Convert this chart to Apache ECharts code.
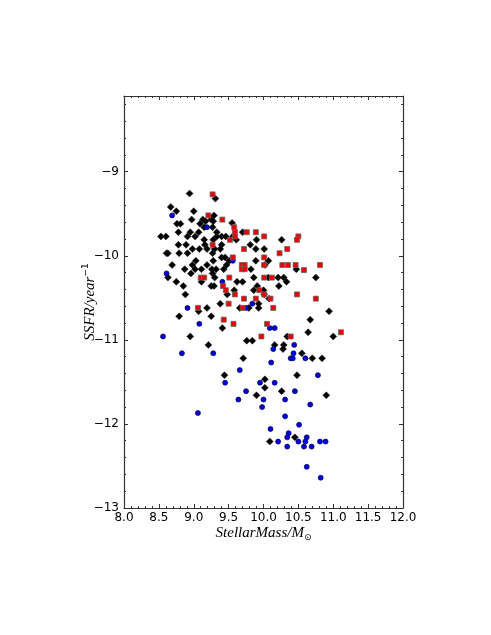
<!DOCTYPE html>
<html>
<head>
<meta charset="utf-8">
<script src="https://cdn.jsdelivr.net/npm/echarts@6.0.0/dist/echarts.min.js"></script>
<style>
  html, body { margin: 0; padding: 0; background: #ffffff; }
  #chart { width: 491px; height: 635px; }
</style>
</head>
<body>
<div id="chart"></div>
<script>
// black diamonds
var blackMass = [8.94, 8.67, 8.75, 9.00, 8.97, 9.13, 9.17, 8.76, 8.81, 9.09, 8.78, 8.95, 9.07, 9.15, 8.53, 8.60, 8.91, 9.02, 9.15, 9.16,
  8.78, 8.89, 8.98, 9.08, 9.19, 8.61, 8.63, 8.79, 8.91, 9.03,
  9.31, 9.29, 9.25, 9.28, 9.27, 9.55, 9.33, 9.33, 9.40, 9.46, 9.56, 9.70, 9.28, 9.61, 9.81, 9.40, 9.30, 9.38, 9.89, 9.27,
  9.40, 9.45, 9.28, 9.89, 9.51,
  8.69, 8.87, 8.98, 9.02, 9.11, 9.19, 8.96, 8.63, 9.11, 8.75, 8.85, 8.88, 9.19, 9.07, 8.79, 8.95,
  9.26, 9.32, 9.43, 9.47, 9.82, 10.02, 9.27, 9.30, 9.62, 9.70, 9.86, 9.25, 9.29, 9.86, 10.00, 9.58, 9.48, 10.08, 9.66, 9.79,
  9.38, 9.25, 9.41, 9.76, 9.84,
  9.90, 10.01, 10.07, 10.07, 9.91, 10.01, 9.93, 9.93,
  9.21, 9.71, 9.44, 10.02, 10.02, 9.90,
  10.26, 10.47, 10.75, 10.21, 10.29, 10.33, 10.22, 10.94, 10.67, 10.64, 11.00, 10.34, 10.16, 10.29, 10.28, 10.55, 10.70, 10.84, 10.48, 10.26,
  10.90, 10.45, 10.09];
var blackSsfr = [-9.26, -9.42, -9.47, -9.47, -9.57, -9.57, -9.59, -9.62, -9.62, -9.62, -9.72, -9.72, -9.72, -9.66, -9.77, -9.77, -9.77, -9.77, -9.81, -9.87,
  -9.87, -9.87, -9.92, -9.92, -9.92, -9.97, -9.97, -9.97, -9.97, -10.06,
  -9.32, -9.52, -9.57, -9.59, -9.66, -9.61, -9.72, -9.77, -9.77, -9.77, -9.77, -9.72, -9.81, -9.81, -9.87, -9.87, -9.92, -9.92, -9.92, -9.97,
  -10.02, -10.02, -10.06, -10.06, -10.06,
  -10.11, -10.16, -10.11, -10.16, -10.16, -10.11, -10.21, -10.26, -10.31, -10.31, -10.36, -10.46, -10.62, -10.66, -10.72, -10.96,
  -10.16, -10.16, -10.16, -10.11, -10.16, -10.11, -10.21, -10.26, -10.31, -10.31, -10.26, -10.36, -10.36, -10.41, -10.41, -10.41, -10.46, -10.51, -10.62, -10.62,
  -10.57, -10.72, -10.86, -11.01, -11.01,
  -9.81, -9.92, -10.06, -10.26, -10.36, -10.46, -10.57, -10.62,
  -11.06, -11.22, -11.42, -11.47, -11.57, -11.66,
  -9.81, -10.16, -10.26, -10.26, -10.26, -10.31, -10.36, -10.66, -10.76, -10.91, -10.96, -10.96, -11.06, -11.06, -11.11, -11.16, -11.22, -11.22, -11.42, -11.61,
  -11.66, -12.16, -12.21];

// red squares
var redMass = [9.27, 9.21, 9.41, 9.58, 9.59, 9.59, 9.76, 9.89, 10.01, 9.52, 9.27, 9.72, 9.56, 10.01, 10.01,
  9.10, 9.15, 9.06,
  9.69, 9.73, 9.69, 9.73, 9.51, 10.01, 9.42, 9.46, 9.94, 10.01, 9.59, 9.72, 9.70, 9.50, 9.43, 9.57, 10.05, 9.97,
  9.89,
  10.50, 10.48, 10.34, 10.23, 10.27, 10.35, 10.46, 10.81, 10.58, 10.12, 10.48, 10.75, 10.10, 10.14, 11.11, 10.39];
var redSsfr = [-9.27, -9.52, -9.57, -9.66, -9.72, -9.77, -9.72, -9.72, -9.77, -9.81, -9.87, -9.92, -10.02, -10.02, -10.11,
  -10.26, -10.26, -10.62,
  -10.11, -10.11, -10.16, -10.16, -10.26, -10.26, -10.36, -10.41, -10.41, -10.46, -10.46, -10.51, -10.62, -10.57, -10.76, -10.81, -10.81, -10.96,
  -10.51,
  -9.77, -9.81, -9.92, -9.97, -10.11, -10.11, -10.11, -10.11, -10.17, -10.26, -10.46, -10.51, -10.51, -10.62, -10.91, -10.96];

// blue circles
var blueMass = [8.69, 9.19, 9.56, 8.61, 9.41, 9.84, 9.75, 8.91, 9.08, 8.56, 8.83, 9.28, 9.66, 9.45, 9.75, 9.64, 9.06, 9.95, 10.00, 9.98,
  10.09, 10.16, 10.44, 10.14, 10.43, 10.39, 10.42, 10.60, 10.11, 10.78, 10.16, 10.45, 10.31, 10.67, 10.31, 10.51, 10.10, 10.36, 10.34, 10.62,
  10.21, 10.50, 10.60, 10.81, 10.89, 10.34, 10.58, 10.69, 10.62, 10.82];
var blueSsfr = [-9.52, -9.66, -10.06, -10.21, -10.31, -10.57, -10.62, -10.62, -10.81, -10.96, -11.16, -11.16, -11.36, -11.51, -11.61, -11.71, -11.87, -11.51, -11.71, -11.80,
  -10.86, -10.86, -11.06, -11.11, -11.16, -11.22, -11.22, -11.22, -11.27, -11.42, -11.51, -11.61, -11.71, -11.77, -11.91, -12.01, -12.06, -12.11, -12.16, -12.16,
  -12.21, -12.21, -12.21, -12.21, -12.21, -12.27, -12.27, -12.27, -12.51, -12.64];

var xTicks = [8.0, 8.5, 9.0, 9.5, 10.0, 10.5, 11.0, 11.5, 12.0];
var yTicks = [-13, -12, -11, -10, -9];

function pairs(xs, ys) {
  var out = [];
  for (var i = 0; i < xs.length; i++) out.push([xs[i], ys[i]]);
  return out;
}

var axisCol = "#333333";
var tickFont = { color: "#000", fontFamily: "DejaVu Sans", fontSize: 12 };

function xAx(pos, showLabel) {
  return {
    type: "value", position: pos, min: 8, max: 12, interval: 0.5,
    axisLine: { show: true, onZero: false, lineStyle: { color: axisCol, width: 1.2 } },
    axisTick: { show: true, inside: true, length: 4, lineStyle: { color: axisCol } },
    minorTick: { show: true, splitNumber: 5, length: 2, lineStyle: { color: axisCol } },
    splitLine: { show: false },
    axisLabel: Object.assign({
      show: showLabel, margin: 4,
      formatter: function (v) {
        var hit = xTicks.filter(function (t) { return Math.abs(t - v) < 1e-6; });
        return hit.length ? hit[0].toFixed(1) : "";
      }
    }, tickFont),
    name: showLabel ? "{a|StellarMass/M}{b|\u2299}" : "",
    nameLocation: "middle", nameGap: 16, nameMoveOverlap: false,
    nameTextStyle: {
      rich: {
        a: { fontFamily: "Liberation Serif", fontStyle: "italic", fontSize: 15, color: "#000", lineHeight: 18, verticalAlign: "middle" },
        b: { fontFamily: "DejaVu Sans", fontSize: 9, color: "#000", verticalAlign: "bottom", lineHeight: 9 }
      }
    }
  };
}

function yAx(pos, showLabel) {
  return {
    type: "value", position: pos, min: -13, max: -8.1, interval: 1,
    axisLine: { show: true, onZero: false, lineStyle: { color: axisCol, width: 1.2 } },
    axisTick: { show: true, inside: true, length: 4, lineStyle: { color: axisCol } },
    minorTick: { show: true, splitNumber: 5, length: 2, lineStyle: { color: axisCol } },
    splitLine: { show: false },
    axisLabel: Object.assign({
      show: showLabel, margin: 5, showMaxLabel: false,
      formatter: function (v) {
        var hit = yTicks.filter(function (t) { return Math.abs(t - v) < 1e-6; });
        return hit.length ? "\u2212" + Math.abs(hit[0]) : "";
      }
    }, tickFont),
    name: showLabel ? "{a|SSFR/year}{b|\u22121}" : "",
    nameLocation: "middle", nameGap: 25, nameRotate: 90, nameMoveOverlap: false,
    nameTextStyle: {
      rich: {
        a: { fontFamily: "Liberation Serif", fontStyle: "italic", fontSize: 15, color: "#000", lineHeight: 18, verticalAlign: "middle" },
        b: { fontFamily: "DejaVu Sans", fontSize: 9, color: "#000", verticalAlign: "top", lineHeight: 9 }
      }
    }
  };
}

var myChart = echarts.init(document.getElementById("chart"), null, { renderer: "canvas" });
var options = {
  backgroundColor: "#ffffff",
  animation: false,
  grid: { left: 124, top: 96, width: 279, height: 412, outerBoundsMode: "none" },
  xAxis: [xAx("bottom", true), xAx("top", false)],
  yAxis: [yAx("left", true), yAx("right", false)],
  series: [
    {
      type: "scatter", name: "black", data: pairs(blackMass, blackSsfr),
      symbol: "diamond", symbolSize: 7,
      itemStyle: { color: "#000000", borderColor: "#222", borderWidth: 0.5, opacity: 1 }
    },
    {
      type: "scatter", name: "blue", data: pairs(blueMass, blueSsfr),
      symbol: "circle", symbolSize: 5,
      itemStyle: { color: "#0000e6", borderColor: "#000044", borderWidth: 0.7, opacity: 1 }
    },
    {
      type: "scatter", name: "red", data: pairs(redMass, redSsfr),
      symbol: "rect", symbolSize: 5,
      itemStyle: { color: "#ee0000", borderColor: "#666", borderWidth: 0.8, opacity: 1 }
    }
  ]
};
myChart.setOption(options);
</script>
</body>
</html>
